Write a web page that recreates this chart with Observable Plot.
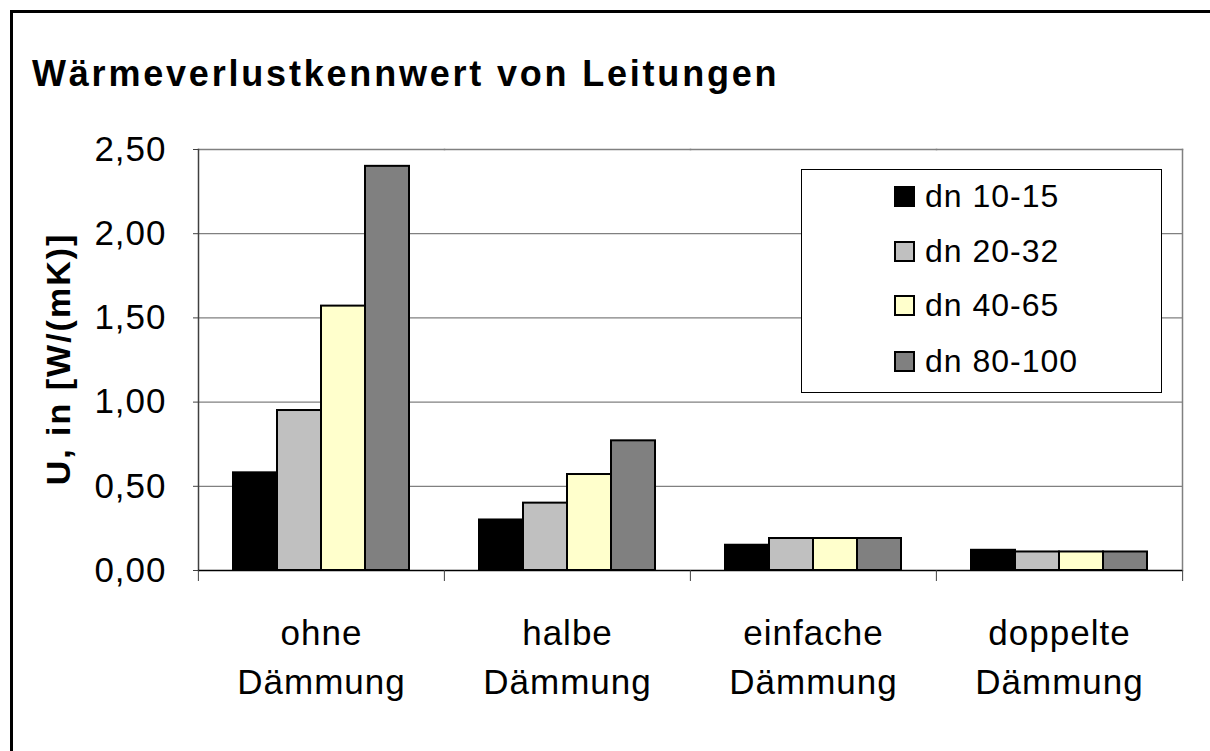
<!DOCTYPE html>
<html><head><meta charset="utf-8">
<script src="https://cdn.jsdelivr.net/npm/d3@7"></script>
<script src="https://cdn.jsdelivr.net/npm/@observablehq/plot@0.6"></script>
<style>
body{margin:0;background:#fff;font-family:"Liberation Sans",Arial,sans-serif;}
#wrap{position:relative;width:1210px;height:751px;overflow:hidden;}
#outer{position:absolute;left:10px;top:10px;width:1300px;height:900px;border-left:3px solid #000;border-top:3px solid #000;}
#chart{position:absolute;left:0;top:0;}
#title{position:absolute;left:32px;top:56px;font-size:36px;line-height:36px;font-weight:bold;letter-spacing:2.8px;white-space:nowrap;color:#000;}
#ylabel{position:absolute;left:58px;top:359px;transform:translate(-50%,-50%) rotate(-90deg);font-size:34px;font-weight:bold;letter-spacing:2px;white-space:nowrap;color:#000;}
#legend{position:absolute;left:801px;top:169px;width:359px;height:222px;border:1px solid #000;background:#fff;}
.row{position:absolute;left:92px;height:55px;display:flex;align-items:center;font-size:32px;letter-spacing:1px;white-space:nowrap;color:#000;}
.sw{width:17px;height:17px;border:2px solid #000;margin-right:10px;flex:none;}
#chart svg text{letter-spacing:1px;}
</style>
</head><body>
<div id="wrap">
  <div id="outer"></div>
  <div id="chart"></div>
  <div id="title">Wärmeverlustkennwert von Leitungen</div>
  <div id="ylabel">U, in [W/(mK)]</div>
  <div id="legend"></div>
</div>
<script>
const categories = ["ohne Dämmung", "halbe Dämmung", "einfache Dämmung", "doppelte Dämmung"];
const series = ["dn 10-15", "dn 20-32", "dn 40-65", "dn 80-100"];
const dn10_15  = [0.58, 0.30, 0.15, 0.12];
const dn20_32  = [0.95, 0.40, 0.19, 0.11];
const dn40_65  = [1.57, 0.57, 0.19, 0.11];
const dn80_100 = [2.40, 0.77, 0.19, 0.11];
const yTicks = [0, 0.5, 1, 1.5, 2, 2.5];
const colors = ["#000000", "#C0C0C0", "#FFFFCC", "#808080"];

const valuesBySeries = [dn10_15, dn20_32, dn40_65, dn80_100];
const data = [];
categories.forEach((c, i) => series.forEach((s, j) => data.push({cat: c, series: s, value: valuesBySeries[j][i]})));

const W = 1210, H = 751, mL = 197, mR = 28;
const halfBand = (W - mL - mR) / categories.length / 2;
const fmt = d => d.toFixed(2).replace(".", ",");

const plot = Plot.plot({
  width: W, height: H,
  marginTop: 149, marginBottom: 181, marginLeft: mL, marginRight: mR,
  style: {fontFamily: "'Liberation Sans', Arial, sans-serif", color: "#000", background: "transparent"},
  fx: {domain: categories, padding: 0, label: null, axis: null},
  x: {domain: series, paddingInner: 0, paddingOuter: 0.75, axis: null},
  y: {domain: [0, 2.5], axis: null},
  color: {domain: series, range: colors},
  marks: [
    Plot.gridY({ticks: yTicks.slice(1, -1), stroke: "#808080", strokeOpacity: 1, strokeWidth: 1.2}),
    Plot.frame({anchor: "top", stroke: "#808080", strokeWidth: 1.5}),
    Plot.frame({anchor: "right", facetAnchor: "right", stroke: "#808080", strokeWidth: 1.5}),
    Plot.frame({anchor: "left", facetAnchor: "left", stroke: "#404040", strokeWidth: 1.5}),
    Plot.barY(data, {fx: "cat", x: "series", y: "value", fill: "series", stroke: "#000", strokeWidth: 2}),
    Plot.ruleY([0], {stroke: "#000", strokeWidth: 1.5}),
    Plot.axisY({ticks: yTicks, tickFormat: fmt, tickSize: 5, tickPadding: 27, fontSize: 35, label: null, stroke: "#404040"}),
    Plot.axisFx({anchor: "bottom", tickSize: 0, tickPadding: 40, fontSize: 35, lineHeight: 1.4, label: null, tickFormat: d => d.replace(" ", "\n")}),
    Plot.axisFx({anchor: "bottom", tickSize: 11, tickPadding: 0, tickFormat: () => "", label: null, dx: -halfBand, stroke: "#404040"}),
    Plot.axisFx({anchor: "bottom", ticks: [categories[categories.length - 1]], tickSize: 11, tickPadding: 0, tickFormat: () => "", label: null, dx: halfBand, stroke: "#404040"})
  ]
});
document.getElementById("chart").appendChild(plot);

const legend = document.getElementById("legend");
const rowTops = [-1.5, 53.5, 108, 163.5];
series.forEach((s, j) => {
  const row = document.createElement("div");
  row.className = "row";
  row.style.top = rowTops[j] + "px";
  const sw = document.createElement("div");
  sw.className = "sw";
  sw.style.background = colors[j];
  const t = document.createElement("span");
  t.textContent = s;
  row.appendChild(sw); row.appendChild(t);
  legend.appendChild(row);
});
</script>
</body></html>
